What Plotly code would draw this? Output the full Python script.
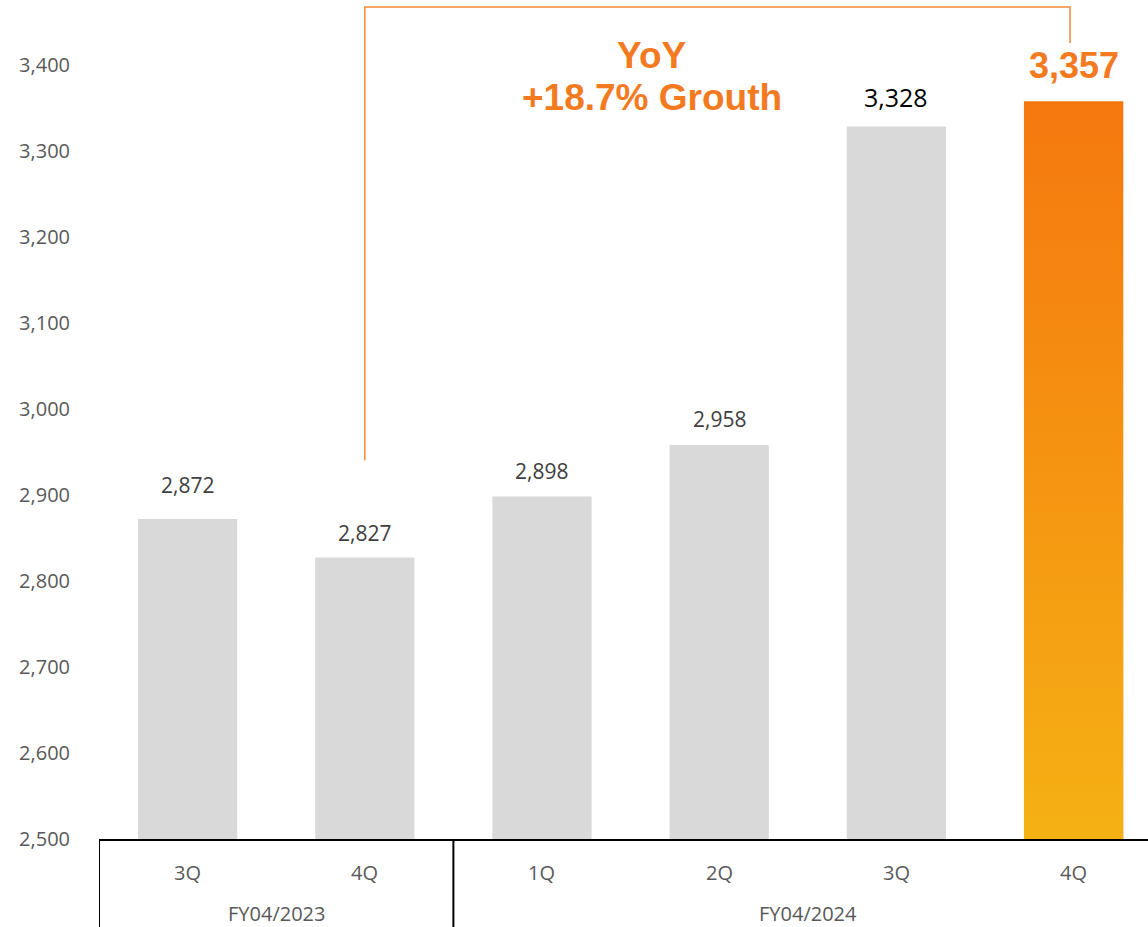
import plotly.graph_objects as go

# Quarterly figures
fiscal_years = ["FY04/2023", "FY04/2023", "FY04/2024", "FY04/2024", "FY04/2024", "FY04/2024"]
quarters = ["3Q", "4Q", "1Q", "2Q", "3Q", "4Q"]
values = [2872, 2827, 2898, 2958, 3328, 3357]
y_ticks = [2500, 2600, 2700, 2800, 2900, 3000, 3100, 3200, 3300, 3400]
headline = ["YoY", "+18.7% Grouth"]

GRAY_BAR = "#D9D9D9"
ORANGE = "#F47A1F"
TICK_GRAY = "#595959"
LABEL_GRAY = "#404040"
BAR_WIDTH = 0.56
Y_MIN, Y_MAX = 2500, 3475

x = list(range(len(values)))
last = len(values) - 1

fig = go.Figure()

# grey bars for earlier quarters, orange for the latest
fig.add_trace(go.Bar(
    x=x, y=[v - Y_MIN for v in values], base=Y_MIN,
    width=BAR_WIDTH,
    marker=dict(color=[GRAY_BAR] * last + [ORANGE], line=dict(width=0)),
    hoverinfo="skip", showlegend=False,
))

# vertical gradient on the latest bar
x0, x1 = x[last] - BAR_WIDTH / 2, x[last] + BAR_WIDTH / 2
fig.add_trace(go.Scatter(
    x=[x0, x1, x1, x0, x0],
    y=[Y_MIN, Y_MIN, values[last], values[last], Y_MIN],
    mode="lines", line=dict(width=0),
    fill="toself",
    fillgradient=dict(type="vertical",
                      colorscale=[[0, "#F5B114"], [1, "#F5780F"]]),
    hoverinfo="skip", showlegend=False,
))

# value labels above the bars
label_shift = [34, 25, 26, 26, 30, 36]
for i, v in enumerate(values):
    if i == last:
        font = dict(family="Liberation Sans, Arial", size=36, color=ORANGE)
        text = f"<b>{v:,}</b>"
    elif i == last - 1:
        font = dict(family="Open Sans", size=25, color="#000000")
        text = f"{v:,}"
    else:
        font = dict(family="Open Sans", size=21, color=LABEL_GRAY)
        text = f"{v:,}"
    fig.add_annotation(x=i, y=v, xref="x", yref="y", text=text, showarrow=False,
                       yanchor="middle", yshift=label_shift[i], font=font)

# quarter labels under the axis
for i, q in enumerate(quarters):
    fig.add_annotation(x=i, y=0, xref="x", yref="paper", text=q, showarrow=False,
                       yanchor="middle", yshift=-33,
                       font=dict(family="Open Sans", size=20, color=TICK_GRAY))

# fiscal-year group labels and dividers
groups = []
for i, fy in enumerate(fiscal_years):
    if not groups or groups[-1][0] != fy:
        groups.append([fy, i, i])
    else:
        groups[-1][2] = i

plot_h = 927 - 88
for fy, start, end in groups:
    fig.add_annotation(x=(start + end) / 2, y=0, xref="x", yref="paper", text=fy,
                       showarrow=False, yanchor="middle", yshift=-74,
                       font=dict(family="Open Sans", size=20, color=TICK_GRAY))
    fig.add_shape(type="line", xref="x", yref="paper",
                  x0=start - 0.5, x1=start - 0.5, y0=0, y1=-88 / plot_h,
                  line=dict(color="#000000", width=2))

# YoY bracket from the prior-year 4Q to the latest 4Q
fig.add_shape(type="path", xref="x", yref="y",
              path="M 1,2940 L 1,3467 L 4.98,3467 L 4.98,3425",
              line=dict(color="#F28A3A", width=1.5))

fig.add_annotation(x=2.62, y=3411, xref="x", yref="y", text=f"<b>{headline[0]}</b>",
                   showarrow=False, yanchor="middle",
                   font=dict(family="Liberation Sans, Arial", size=37, color=ORANGE))
fig.add_annotation(x=2.62, y=3362, xref="x", yref="y", text=f"<b>{headline[1]}</b>",
                   showarrow=False, yanchor="middle",
                   font=dict(family="Liberation Sans, Arial", size=37, color=ORANGE))

fig.update_layout(
    width=1148, height=927,
    margin=dict(l=99, r=0, t=0, b=88),
    paper_bgcolor="white", plot_bgcolor="white",
    bargap=0.44,
    xaxis=dict(range=[-0.5, 5.42], showticklabels=False, ticks="",
               showgrid=False, zeroline=False,
               showline=True, linecolor="#000000", linewidth=2),
    yaxis=dict(range=[Y_MIN, Y_MAX], tickvals=y_ticks, tickformat=",",
               showgrid=False, zeroline=False, showline=False, ticks="",
               ticklabelstandoff=28,
               tickfont=dict(family="Open Sans", size=20, color=TICK_GRAY)),
)

fig.write_html("out.html")
